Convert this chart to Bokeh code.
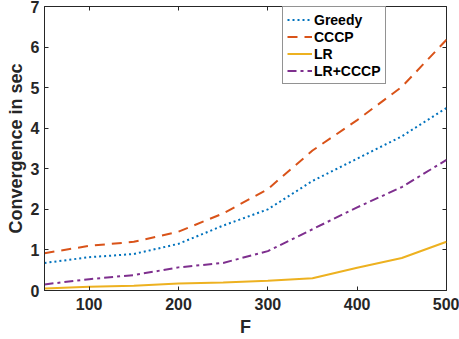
from bokeh.plotting import figure
from bokeh.models import Range1d, Legend, LegendItem, FixedTicker, LinearAxis
from bokeh.embed import file_html
from bokeh.resources import INLINE

F = [50, 100, 150, 200, 250, 300, 350, 400, 450, 500]
greedy = [0.68, 0.82, 0.90, 1.15, 1.60, 2.00, 2.70, 3.25, 3.80, 4.50]
cccp = [0.92, 1.10, 1.20, 1.45, 1.90, 2.50, 3.45, 4.20, 5.02, 6.18]
lr = [0.05, 0.09, 0.12, 0.17, 0.20, 0.24, 0.30, 0.56, 0.80, 1.20]
lr_cccp = [0.15, 0.28, 0.38, 0.57, 0.68, 0.97, 1.51, 2.05, 2.55, 3.22]
x_ticks = [100, 200, 300, 400, 500]
y_ticks = [0, 1, 2, 3, 4, 5, 6, 7]

FONT = "Liberation Sans"
AX = "#262626"

p = figure(width=459, height=339, output_backend="svg", toolbar_location=None,
           x_range=Range1d(50, 500), y_range=Range1d(0, 7),
           min_border_left=44, min_border_right=13, min_border_top=6, min_border_bottom=49)
p.background_fill_color = "white"
p.border_fill_color = "white"
p.outline_line_color = AX
p.outline_line_width = 1
p.xgrid.visible = False
p.ygrid.visible = False

for ax in (p.xaxis[0], p.yaxis[0]):
    ax.major_tick_in = 4
    ax.major_tick_out = 0
    ax.minor_tick_in = 0
    ax.minor_tick_out = 0
    ax.axis_line_color = AX
    ax.major_tick_line_color = AX
    ax.major_label_text_font = FONT
    ax.major_label_text_font_style = "bold"
    ax.major_label_text_font_size = "16px"
    ax.major_label_text_color = AX
    ax.axis_label_text_font = FONT
    ax.axis_label_text_font_style = "bold"
    ax.axis_label_text_font_size = "18px"
    ax.axis_label_text_color = AX
p.xaxis[0].ticker = FixedTicker(ticks=x_ticks)
p.yaxis[0].ticker = FixedTicker(ticks=y_ticks)
p.xaxis[0].axis_label = "F"
p.yaxis[0].axis_label = "Convergence in sec"
p.xaxis[0].major_label_standoff = 7
p.xaxis[0].axis_label_standoff = 4
p.yaxis[0].major_label_standoff = 5
p.yaxis[0].axis_label_standoff = 2

# mirrored tick marks on the top and right edges (box style), no labels
for loc, ticks in (("above", x_ticks), ("right", y_ticks)):
    ax2 = LinearAxis(ticker=FixedTicker(ticks=ticks), major_tick_in=4, major_tick_out=0,
                     minor_tick_in=0, minor_tick_out=0, axis_line_color=None,
                     major_tick_line_color=AX, major_label_text_color=None,
                     major_label_text_font_size="1px", major_label_standoff=0)
    p.add_layout(ax2, loc)

r1 = p.line(F, greedy, line_color="#0072BD", line_width=2, line_dash="2 3")
r2 = p.line(F, cccp, line_color="#D95319", line_width=2, line_dash="10 7")
r3 = p.line(F, lr, line_color="#EDB120", line_width=2)
r4 = p.line(F, lr_cccp, line_color="#7E2F8E", line_width=2, line_dash="9 4 3 4")

legend = Legend(items=[LegendItem(label="Greedy", renderers=[r1]),
                       LegendItem(label="CCCP", renderers=[r2]),
                       LegendItem(label="LR", renderers=[r3]),
                       LegendItem(label="LR+CCCP", renderers=[r4])],
                location=(238, 206))
legend.label_text_font = FONT
legend.label_text_font_style = "bold"
legend.label_text_font_size = "14px"
legend.label_text_color = "black"
legend.label_height = 17
legend.glyph_height = 17
legend.glyph_width = 25
legend.label_standoff = 2
legend.spacing = 0
legend.padding = 4
legend.margin = 0
legend.border_line_color = AX
legend.border_line_width = 1
legend.background_fill_color = "white"
legend.background_fill_alpha = 1
p.add_layout(legend, "center")

open("out.html", "w").write(file_html(p, INLINE))
